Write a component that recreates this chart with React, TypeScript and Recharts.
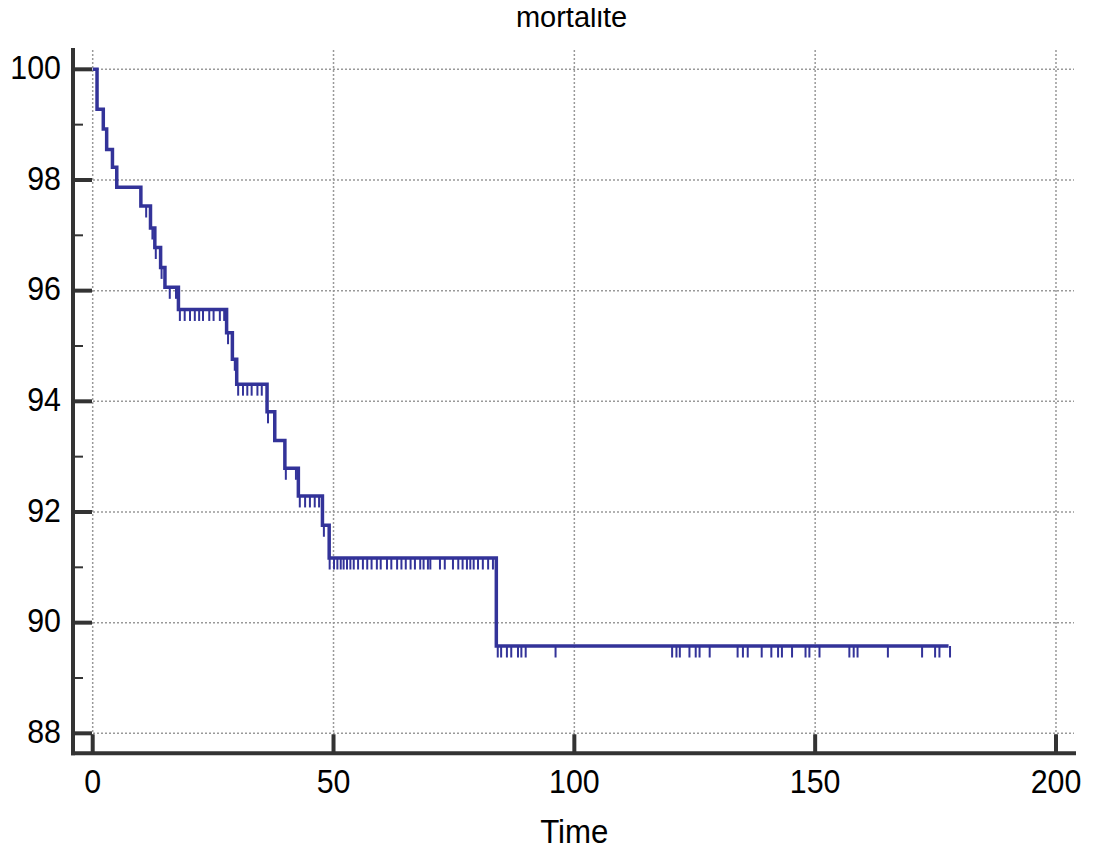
import { ComposedChart, Line, Scatter, XAxis, YAxis, CartesianGrid } from 'recharts';

// Kaplan-Meier step curve (time, survival %)
const eventTimes = [0, 0.9, 2.2, 2.9, 4.1, 5.0, 10.0, 12.0, 12.9, 14.1, 15.0, 17.8, 27.8, 29.0, 29.9, 36.2, 37.8, 39.9, 42.7, 47.7, 49.1, 83.8, 177.7];
const survivalPct = [100, 99.28, 98.92, 98.55, 98.23, 97.87, 97.53, 97.13, 96.78, 96.42, 96.06, 95.66, 95.24, 94.76, 94.31, 93.81, 93.29, 92.79, 92.29, 91.76, 91.17, 89.58, 89.58];

// censored observations
const censorTimes = [
  11.1, 12.4, 13.1, 14.3, 16.0, 17.3, 18.1, 19.1, 20.2, 21.2, 22.1, 22.9, 24.2, 25.1, 26.4, 27.3,
  28.1, 29.5, 30.2, 31.2, 32.1, 33.0, 34.2, 35.1, 36.4, 40.1, 42.2, 43.0, 44.1, 45.1, 46.1, 47.0,
  48.0, 49.2, 50.1, 50.8, 51.5, 52.1, 52.8, 53.5, 54.2, 55.1, 56.1, 57.0, 57.9, 59.0, 59.8, 61.1,
  62.0, 63.2, 64.1, 65.0, 66.0, 66.9, 68.0, 68.7, 69.6, 70.1, 72.1, 73.1, 74.8, 75.9, 76.8, 77.7,
  78.4, 79.1, 80.0, 81.0, 82.1, 83.1, 84.1, 84.8, 86.0, 86.9, 88.3, 89.0, 89.9, 96.1, 120.3, 121.2,
  121.9, 123.9, 125.2, 126.0, 128.1, 133.9, 135.0, 136.0, 138.9, 140.9, 142.3, 143.1, 145.2, 148.0,
  148.8, 150.9, 157.1, 158.0, 158.8, 165.1, 172.2, 174.9, 175.8, 178.0,
];

const xTicks = [0, 50, 100, 150, 200];
const yTicks = [88, 89, 90, 91, 92, 93, 94, 95, 96, 97, 98, 99, 100];
const yGrid = [88, 90, 92, 94, 96, 98, 100];

const FONT = '"Liberation Sans", Arial, sans-serif';
const BLUE = '#333399';
const AXIS = '#333333';
const LABEL_SIZE = 33;
const SQUEEZE = 0.92;

const curve = eventTimes.map((t, i) => ({ t, s: survivalPct[i] }));

const levelAt = (t: number) => {
  let s = survivalPct[0];
  eventTimes.forEach((et, i) => {
    if (et <= t) s = survivalPct[i];
  });
  return s;
};

const censored = censorTimes.map((t) => ({ t, s: levelAt(t) }));

const Y_MARGIN = 12;

const YTick = (props: any) => {
  const { x, y, payload } = props;
  const ax = x + Y_MARGIN;
  const major = payload.value % 2 === 0;
  return (
    <g>
      <line x1={ax} x2={ax + (major ? 19 : 10)} y1={y} y2={y} stroke={AXIS} strokeWidth={major ? 4 : 2} />
      {major && (
        <text
          transform={`translate(${x},${y + 9.7}) scale(${SQUEEZE},1)`}
          textAnchor="end"
          fontSize={LABEL_SIZE}
          fontFamily={FONT}
          fill="#000"
        >
          {payload.value}
        </text>
      )}
    </g>
  );
};

const XTick = (props: any) => {
  const { x, y, payload } = props;
  return (
    <g>
      <line x1={x} x2={x} y1={y} y2={y - 19} stroke={AXIS} strokeWidth={4} />
      <text
        transform={`translate(${x},${y + 39.4}) scale(${SQUEEZE},1)`}
        textAnchor="middle"
        fontSize={LABEL_SIZE}
        fontFamily={FONT}
        fill="#000"
      >
        {payload.value}
      </text>
    </g>
  );
};

const CensorMark = (props: any) => {
  const { cx, cy } = props;
  return <line x1={cx} x2={cx} y1={cy} y2={cy + 11.5} stroke={BLUE} strokeWidth={2} />;
};

export default function App() {
  return (
    <div style={{ position: 'relative', width: 1078, height: 836 }}>
      <ComposedChart width={1078} height={836} margin={{ top: 42, right: 12, bottom: 0, left: 0 }}>
        <CartesianGrid
          stroke="#999999"
          strokeWidth={1.5}
          strokeDasharray="2 2"
          horizontalValues={yGrid}
          verticalValues={xTicks}
        />
        <XAxis
          type="number"
          dataKey="t"
          domain={[-4.09, 203.74]}
          ticks={xTicks}
          interval={0}
          allowDataOverflow
          height={90.7}
          tickSize={0}
          tickMargin={0}
          tickLine={false}
          axisLine={{ stroke: AXIS, strokeWidth: 4, strokeLinecap: 'square' }}
          tick={<XTick />}
        />
        <YAxis
          type="number"
          dataKey="s"
          domain={[87.639, 100.349]}
          ticks={yTicks}
          interval={0}
          allowDataOverflow
          width={65}
          tickSize={0}
          tickMargin={Y_MARGIN}
          tickLine={false}
          axisLine={{ stroke: AXIS, strokeWidth: 4, strokeLinecap: 'square' }}
          tick={<YTick />}
        />
        <Line
          data={curve}
          dataKey="s"
          type="stepAfter"
          stroke={BLUE}
          strokeWidth={3.5}
          dot={false}
          activeDot={false}
          isAnimationActive={false}
        />
        <Scatter data={censored} dataKey="s" shape={<CensorMark />} isAnimationActive={false} />
      </ComposedChart>
      <svg
        width={1078}
        height={836}
        style={{ position: 'absolute', left: 0, top: 0, pointerEvents: 'none', overflow: 'visible' }}
      >
        <text x={563.5} y={19.3} textAnchor="middle" fontSize={29} fontFamily={FONT} fill="#000">
          mortalite
        </text>
        <text
          transform={`translate(566.3,834.7) scale(${SQUEEZE},1)`}
          textAnchor="middle"
          fontSize={34}
          fontFamily={FONT}
          fill="#000"
        >
          Time
        </text>
      </svg>
    </div>
  );
}
